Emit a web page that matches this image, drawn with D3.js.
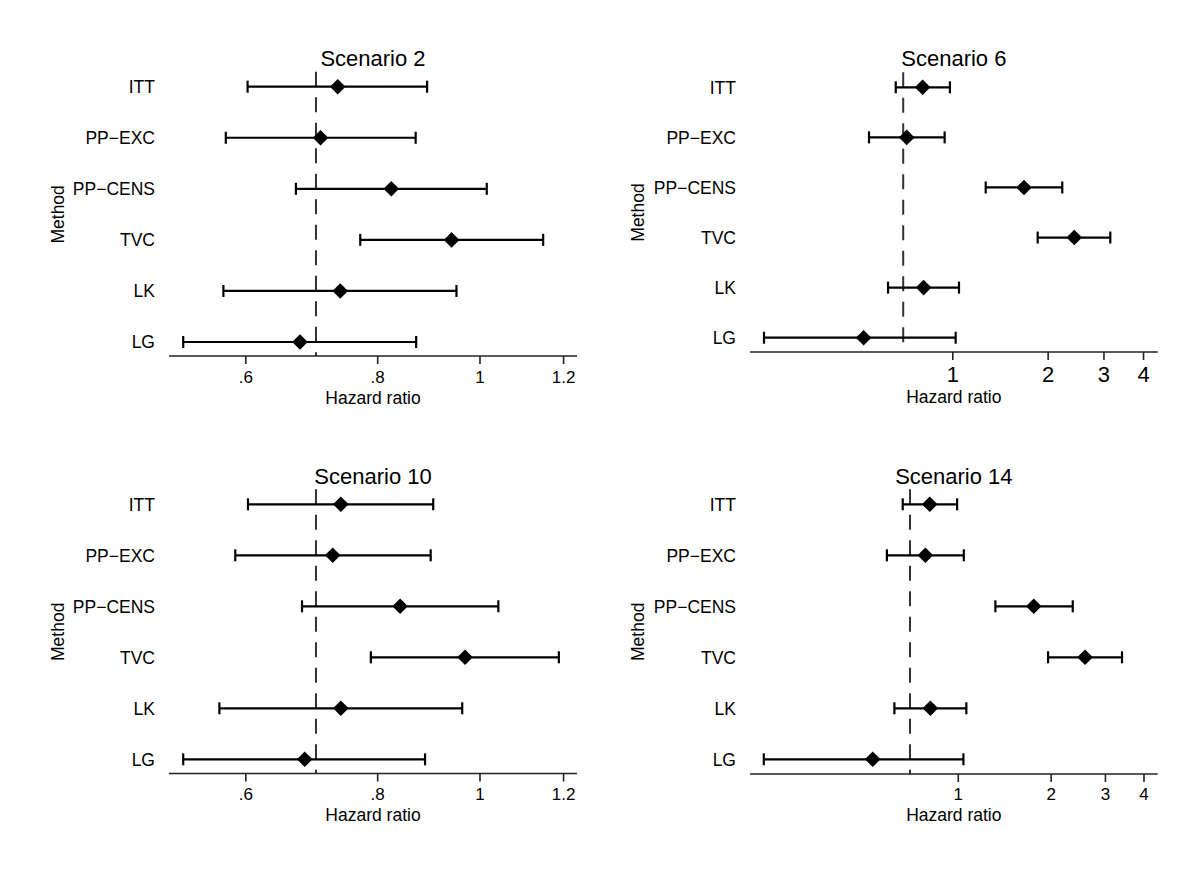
<!DOCTYPE html>
<html>
<head>
<meta charset="utf-8">
<script src="https://cdn.jsdelivr.net/npm/d3@7"></script>
<style>
  html, body { margin: 0; padding: 0; background: #fff; }
  svg { display: block; font-family: "Liberation Sans", Arial, Helvetica, sans-serif; }
</style>
</head>
<body>
<svg id="chart" width="1200" height="873"></svg>
<script>
// ---------------- DATA ----------------
const methods = ["ITT", "PP\u2212EXC", "PP\u2212CENS", "TVC", "LK", "LG"];
const scenarios = ["Scenario 2", "Scenario 6", "Scenario 10", "Scenario 14"];
const refHR = 0.7;

// Scenario 2
const hr2 = [0.734, 0.707, 0.825, 0.941, 0.738, 0.676];
const lo2 = [0.603, 0.575, 0.670, 0.771, 0.572, 0.524];
const hi2 = [0.892, 0.870, 1.016, 1.149, 0.951, 0.871];
// Scenario 6
const hr6 = [0.806, 0.718, 1.684, 2.427, 0.812, 0.525];
const lo6 = [0.663, 0.546, 1.275, 1.860, 0.627, 0.2545];
const hi6 = [0.983, 0.946, 2.224, 3.153, 1.050, 1.025];
// Scenario 10
const hr10 = [0.739, 0.726, 0.841, 0.969, 0.739, 0.683];
const lo10 = [0.6035, 0.587, 0.679, 0.789, 0.567, 0.524];
const hi10 = [0.904, 0.899, 1.042, 1.189, 0.963, 0.888];
// Scenario 14
const hr14 = [0.811, 0.785, 1.763, 2.586, 0.815, 0.530];
const lo14 = [0.663, 0.589, 1.324, 1.962, 0.623, 0.235];
const hi14 = [0.995, 1.046, 2.359, 3.408, 1.066, 1.043];

// Axis ticks / ranges
const ticksA = [0.6, 0.8, 1, 1.2];
const tickLabelsA = [".6", ".8", "1", "1.2"];
const ticksB = [1, 2, 3, 4];
const tickLabelsB = ["1", "2", "3", "4"];
const domain2 = [0.508, 1.237];
const domain6 = [0.2299, 4.45];
const domain10 = [0.508, 1.237];
const domain14 = [0.212, 4.448];

const xTitle = "Hazard ratio";
const yTitle = "Method";

// ---------------- LAYOUT ----------------
const panels = [
  { title: scenarios[0], hr: hr2, lo: lo2, hi: hi2, domain: domain2, ticks: ticksA, labels: tickLabelsA,
    x0: 169, x1: 577, axisY: 356, rowTop: 86.7, rowBot: 342, titleY: 66, tickFont: 17, tickDy: 26.7, xlabDy: 48, catRight: 155, methX: 64 },
  { title: scenarios[1], hr: hr6, lo: lo6, hi: hi6, domain: domain6, ticks: ticksB, labels: tickLabelsB,
    x0: 750, x1: 1157.7, axisY: 352, rowTop: 87.3, rowBot: 337.7, titleY: 66, tickFont: 22, tickDy: 30.3, xlabDy: 51.3, catRight: 736, methX: 644 },
  { title: scenarios[2], hr: hr10, lo: lo10, hi: hi10, domain: domain10, ticks: ticksA, labels: tickLabelsA,
    x0: 169, x1: 577, axisY: 773.5, rowTop: 504.3, rowBot: 759.3, titleY: 483.5, tickFont: 17, tickDy: 26.5, xlabDy: 47.5, catRight: 155, methX: 64 },
  { title: scenarios[3], hr: hr14, lo: lo14, hi: hi14, domain: domain14, ticks: ticksB, labels: tickLabelsB,
    x0: 750, x1: 1157.7, axisY: 774, rowTop: 504.3, rowBot: 759.3, titleY: 483.5, tickFont: 17, tickDy: 25.5, xlabDy: 47, catRight: 736, methX: 644 }
];

const svg = d3.select("#chart");
svg.append("rect").attr("width", 1200).attr("height", 873).attr("fill", "#fff");

panels.forEach(p => {
  const g = svg.append("g");
  const x = d3.scaleLog().domain(p.domain).range([p.x0, p.x1]);
  const y = d3.scalePoint().domain(methods).range([p.rowTop, p.rowBot]);
  const rows = methods.map((m, i) => ({ m, hr: p.hr[i], lo: p.lo[i], hi: p.hi[i] }));

  // Title
  g.append("text")
    .attr("x", (p.x0 + p.x1) / 2).attr("y", p.titleY)
    .attr("text-anchor", "middle").attr("font-size", 22).attr("fill", "#000")
    .text(p.title);

  // Reference dashed line
  const dashStart = p.rowTop - 15;
  g.append("line")
    .attr("x1", x(refHR)).attr("x2", x(refHR))
    .attr("y1", dashStart).attr("y2", p.axisY)
    .attr("stroke", "#333").attr("stroke-width", 2)
    .attr("stroke-dasharray", "15,10.5");

  // Error bars
  const bars = g.append("g").selectAll("g").data(rows).join("g");
  bars.append("line")
    .attr("x1", d => x(d.lo)).attr("x2", d => x(d.hi))
    .attr("y1", d => y(d.m)).attr("y2", d => y(d.m))
    .attr("stroke", "#000").attr("stroke-width", 2.2);
  bars.append("line")
    .attr("x1", d => x(d.lo)).attr("x2", d => x(d.lo))
    .attr("y1", d => y(d.m) - 6).attr("y2", d => y(d.m) + 6)
    .attr("stroke", "#000").attr("stroke-width", 2.2);
  bars.append("line")
    .attr("x1", d => x(d.hi)).attr("x2", d => x(d.hi))
    .attr("y1", d => y(d.m) - 6).attr("y2", d => y(d.m) + 6)
    .attr("stroke", "#000").attr("stroke-width", 2.2);
  // Diamonds
  const dsz = 7.8;
  bars.append("path")
    .attr("d", d => {
      const cx = x(d.hr), cy = y(d.m);
      return `M${cx},${cy - dsz}L${cx + dsz},${cy}L${cx},${cy + dsz}L${cx - dsz},${cy}Z`;
    })
    .attr("fill", "#000");

  // Category labels
  g.append("g").selectAll("text").data(methods).join("text")
    .attr("x", p.catRight).attr("y", d => y(d))
    .attr("dy", "0.36em").attr("text-anchor", "end")
    .attr("font-size", 17.5).attr("fill", "#000")
    .text(d => d);

  // Y title
  g.append("text")
    .attr("transform", `translate(${p.methX},${(p.rowTop + p.rowBot) / 2}) rotate(-90)`)
    .attr("text-anchor", "middle").attr("font-size", 17.5).attr("fill", "#000")
    .text(yTitle);

  // X axis
  const axis = d3.axisBottom(x)
    .tickValues(p.ticks)
    .tickFormat((d, i) => p.labels[i])
    .tickSizeInner(8).tickSizeOuter(0).tickPadding(0);
  const ag = g.append("g").attr("transform", `translate(0,${p.axisY})`).call(axis);
  ag.select(".domain").attr("stroke", "#222").attr("stroke-width", 1.6)
    .attr("d", `M${p.x0},0H${p.x1}`);
  ag.selectAll(".tick line").attr("stroke", "#222").attr("stroke-width", 1.6);
  ag.selectAll(".tick text")
    .attr("y", p.tickDy).attr("dy", null)
    .attr("font-size", p.tickFont)
    .attr("font-family", "Liberation Sans, Arial, sans-serif")
    .attr("fill", "#000");

  g.append("text")
    .attr("x", (p.x0 + p.x1) / 2).attr("y", p.axisY + p.xlabDy)
    .attr("text-anchor", "middle").attr("font-size", 17.5).attr("fill", "#000")
    .text(xTitle);
});
</script>
</body>
</html>
